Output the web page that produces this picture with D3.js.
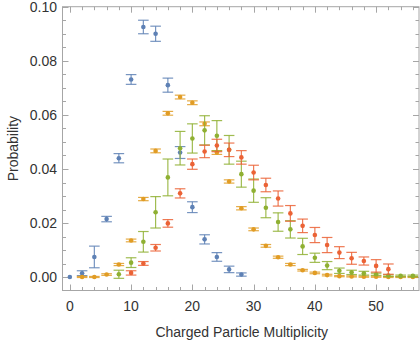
<!DOCTYPE html>
<html>
<head>
<meta charset="utf-8">
<script src="https://cdn.jsdelivr.net/npm/d3@7"></script>
<style>
    body { margin: 0; background: white; }
    svg { display: block; }
</style>
</head>
<body>
<div id="chart"></div>
<script>
// Multiplicity values (x) and probabilities (y) with their errors, one set per series
const blueX = [0, 2, 4, 6, 8, 10, 12, 14, 16, 18, 20, 22, 24, 26, 28];
const blueY = [0.0001, 0.0015, 0.0075, 0.0215, 0.0440, 0.0731, 0.0925, 0.0900, 0.0710, 0.0461, 0.0259, 0.0140, 0.0075, 0.0029, 0.0010];
const blueErr = [0, 0.0009, 0.0040, 0.0010, 0.0017, 0.0018, 0.0025, 0.0028, 0.0026, 0.0022, 0.0020, 0.0017, 0.0016, 0.0012, 0.0006];

const orangeX = [2, 4, 6, 8, 10, 12, 14, 16, 18, 20, 22, 24, 26, 28, 30, 32, 34, 36, 38, 40, 42, 44, 46, 48, 50, 52, 54, 56];
const orangeY = [0.0001, 0.0001, 0.0010, 0.0047, 0.0136, 0.0289, 0.0467, 0.0606, 0.0666, 0.0645, 0.0567, 0.0461, 0.0354, 0.0255, 0.0177, 0.0116, 0.0074, 0.0047, 0.0026, 0.0016, 0.0008, 0.0004, 0.0003, 0.0002, 0.0002, 0.0001, 0.0001, 0.0001];
const orangeErr = [0.0002, 0.0002, 0.0003, 0.0004, 0.0005, 0.0006, 0.0007, 0.0007, 0.0007, 0.0007, 0.0007, 0.0007, 0.0006, 0.0006, 0.0005, 0.0005, 0.0004, 0.0004, 0.0003, 0.0003, 0.0003, 0.0002, 0.0002, 0.0002, 0.0002, 0.0002, 0.0002, 0.0002];

const greenX = [8, 10, 12, 14, 16, 18, 20, 22, 24, 26, 28, 30, 32, 34, 36, 38, 40, 42, 44, 46, 48, 50, 52, 54, 56];
const greenY = [0.0011, 0.0054, 0.0131, 0.0240, 0.0369, 0.0477, 0.0513, 0.0543, 0.0523, 0.0471, 0.0381, 0.0320, 0.0257, 0.0204, 0.0177, 0.0114, 0.0072, 0.0043, 0.0024, 0.0018, 0.0015, 0.0011, 0.0006, 0.0005, 0.0005];
const greenErr = [0.0015, 0.0018, 0.0038, 0.0058, 0.0068, 0.0062, 0.0054, 0.0054, 0.0056, 0.0053, 0.0048, 0.0043, 0.0037, 0.0034, 0.0032, 0.0030, 0.0017, 0.0015, 0.0010, 0.0008, 0.0007, 0.0004, 0.0003, 0.0003, 0.0003];

const redX = [10, 12, 14, 16, 18, 20, 22, 24, 26, 28, 30, 32, 34, 36, 38, 40, 42, 44, 46, 48, 50, 52];
const redY = [0.0016, 0.0051, 0.0109, 0.0199, 0.0310, 0.0418, 0.0465, 0.0487, 0.0471, 0.0443, 0.0387, 0.0341, 0.0291, 0.0236, 0.0190, 0.0156, 0.0119, 0.0091, 0.0070, 0.0060, 0.0042, 0.0030];
const redErr = [0.0008, 0.0007, 0.0012, 0.0014, 0.0017, 0.0019, 0.0023, 0.0023, 0.0025, 0.0025, 0.0027, 0.0025, 0.0028, 0.0029, 0.0025, 0.0028, 0.0028, 0.0022, 0.0022, 0.0015, 0.0023, 0.0019];

// Tick labels
const xTickValues = [0, 10, 20, 30, 40, 50];
const yTickValues = [0, 0.02, 0.04, 0.06, 0.08, 0.10];

const xTitle = 'Charged Particle Multiplicity';
const yTitle = 'Probability';

const size = { width: 420, height: 343 };
const frame = { left: 62.5, right: 419, top: 6.7, bottom: 290.5 };
const frameColor = '#a6a6a6';
const labelColor = '#333333';
const font = 'Liberation Sans, Arial, sans-serif';
const fontSize = 14;

const series = [
    { x: blueX, y: blueY, err: blueErr, color: '#5e81b5' },
    { x: orangeX, y: orangeY, err: orangeErr, color: '#e19c24' },
    { x: greenX, y: greenY, err: greenErr, color: '#8fb032' },
    { x: redX, y: redY, err: redErr, color: '#eb6235' }
];

const xScale = d3.scaleLinear()
    .domain([-1.2, 57])
    .range([frame.left, frame.right]);
const yScale = d3.scaleLinear()
    .domain([-0.0049, 0.1])
    .range([frame.bottom, frame.top]);

const svg = d3.select('#chart')
    .append('svg')
    .attr('width', size.width)
    .attr('height', size.height);

// Frame ticks, pointing inwards on all four sides
const xMinor = d3.range(0, 57, 2);
const yMinor = d3.range(0, 0.1001, 0.005);
const tickGroup = svg.append('g')
    .attr('stroke', frameColor)
    .attr('stroke-width', 1);

xMinor.forEach(v => {
    const major = v % 10 === 0;
    const len = major ? 6 : 3.5;
    const px = Math.round(xScale(v)) + 0.5;
    tickGroup.append('line')
        .attr('x1', px).attr('x2', px)
        .attr('y1', frame.bottom).attr('y2', frame.bottom - len);
    tickGroup.append('line')
        .attr('x1', px).attr('x2', px)
        .attr('y1', frame.top).attr('y2', frame.top + len);
});
yMinor.forEach((v, i) => {
    const major = i % 4 === 0;
    const len = major ? 6 : 3.5;
    const py = Math.round(yScale(v)) + 0.5;
    tickGroup.append('line')
        .attr('x1', frame.left).attr('x2', frame.left + len)
        .attr('y1', py).attr('y2', py);
    tickGroup.append('line')
        .attr('x1', frame.right).attr('x2', frame.right - len)
        .attr('y1', py).attr('y2', py);
});

// Error bars and points
const dataGroup = svg.append('g');
const capHalf = 5.3;
series.forEach(s => {
    const g = dataGroup.append('g');
    s.x.forEach((xv, i) => {
        const cx = xScale(xv);
        const yTop = yScale(s.y[i] + s.err[i]);
        const yBottom = yScale(s.y[i] - s.err[i]);
        if (s.err[i] > 0) {
            const bar = g.append('g')
                .attr('stroke', s.color)
                .attr('stroke-width', 1.2)
                .attr('stroke-opacity', 0.85);
            bar.append('line')
                .attr('x1', cx).attr('x2', cx)
                .attr('y1', yTop).attr('y2', yBottom);
            bar.append('line')
                .attr('x1', cx - capHalf).attr('x2', cx + capHalf)
                .attr('y1', yTop).attr('y2', yTop);
            bar.append('line')
                .attr('x1', cx - capHalf).attr('x2', cx + capHalf)
                .attr('y1', yBottom).attr('y2', yBottom);
        }
        g.append('circle')
            .attr('cx', cx)
            .attr('cy', yScale(s.y[i]))
            .attr('r', 2.3)
            .attr('fill', s.color);
    });
});

// Frame
svg.append('rect')
    .attr('x', frame.left)
    .attr('y', frame.top)
    .attr('width', frame.right - frame.left)
    .attr('height', frame.bottom - frame.top)
    .attr('fill', 'none')
    .attr('stroke', frameColor)
    .attr('stroke-width', 1);

// Tick labels
svg.append('g')
    .selectAll('text')
    .data(xTickValues)
    .join('text')
    .attr('x', d => xScale(d))
    .attr('y', 311)
    .attr('text-anchor', 'middle')
    .attr('font-family', font)
    .attr('font-size', fontSize)
    .attr('fill', labelColor)
    .text(d => d);

svg.append('g')
    .selectAll('text')
    .data(yTickValues)
    .join('text')
    .attr('x', 57)
    .attr('y', d => yScale(d) + 5)
    .attr('text-anchor', 'end')
    .attr('font-family', font)
    .attr('font-size', fontSize)
    .attr('fill', labelColor)
    .text(d => d3.format('.2f')(d));

// Axis titles
svg.append('text')
    .attr('x', (frame.left + frame.right) / 2 + 1)
    .attr('y', 337)
    .attr('text-anchor', 'middle')
    .attr('font-family', font)
    .attr('font-size', fontSize)
    .attr('fill', labelColor)
    .text(xTitle);

svg.append('text')
    .attr('transform', 'translate(18,' + ((frame.top + frame.bottom) / 2) + ') rotate(-90)')
    .attr('text-anchor', 'middle')
    .attr('font-family', font)
    .attr('font-size', fontSize)
    .attr('fill', labelColor)
    .text(yTitle);
</script>
</body>
</html>
